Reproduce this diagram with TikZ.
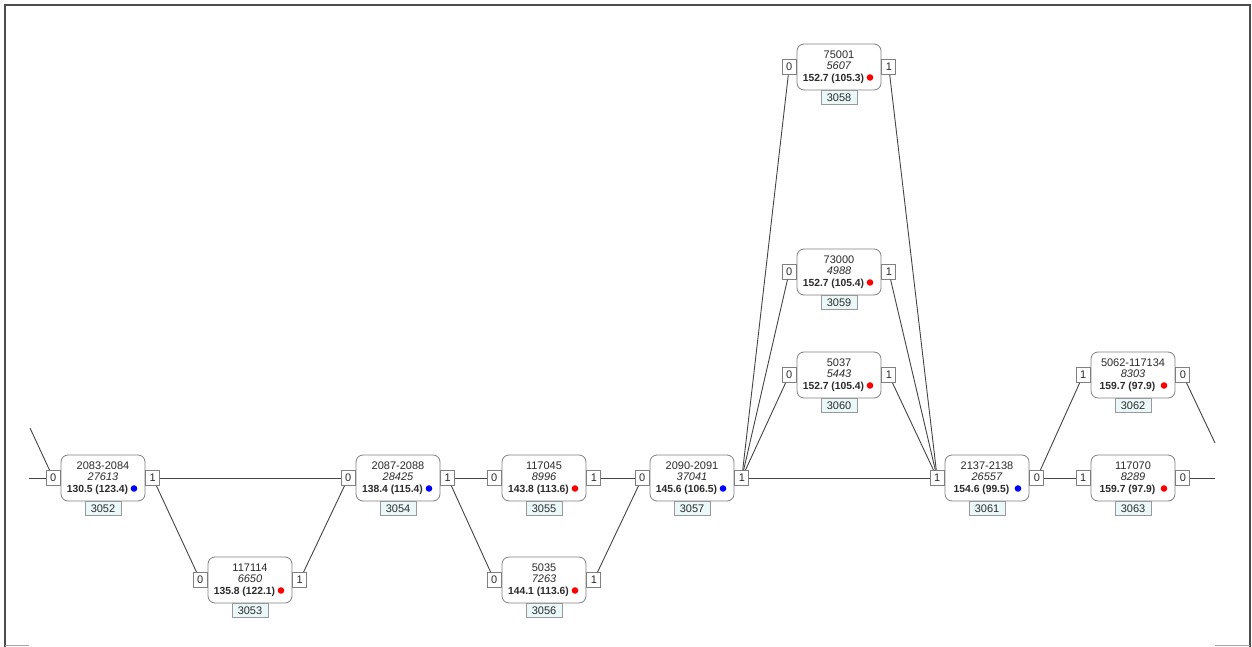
\documentclass[tikz,border=0pt]{standalone}
\usepackage{fontspec}
\setmainfont{Liberation Sans}
\usetikzlibrary{positioning}
\definecolor{txtgray}{HTML}{2B2B2B}
\definecolor{linegray}{HTML}{444444}
\definecolor{idfill}{HTML}{EAF8F9}

\begin{document}
\begin{tikzpicture}[x=1pt, y=-1pt,
  every node/.style={font=\fontsize{11}{11.5}\selectfont, text=txtgray},
  block/.style={draw=gray, line width=0.8pt, rounded corners=7pt, fill=white, minimum width=84pt,
    minimum height=46pt, inner sep=1pt, align=center},
  port/.style={draw=gray, line width=0.8pt, fill=white, minimum width=14pt, minimum height=15pt, inner sep=0pt},
  idbox/.style={draw=gray!80, line width=0.8pt, fill=idfill, minimum width=36pt, minimum height=14pt, inner sep=0pt},
  link/.style={linegray, line width=0.9pt}]
  \useasboundingbox (0,0) rectangle (1252,647);

  %% Frame
  \draw[gray!60!black, line width=1.2pt] (5,647) -- (5,5) -- (1250,5) -- (1250,647);
  \draw[gray!70, line width=1pt] (5,645) -- (29,645);
  \draw[gray!70, line width=1pt] (1215,645) -- (1250,645);

  %% Blocks with ports and ids
  \foreach \id/\x/\y/\la/\lb/\lc/\col/\pl/\pr in {
      3052/103/478/2083-2084/27613/130.5 (123.4)/blue/0/1,
      3053/250/580/117114/6650/135.8 (122.1)/red/0/1,
      3054/398/478/2087-2088/28425/138.4 (115.4)/blue/0/1,
      3055/544/478/117045/8996/143.8 (113.6)/red/0/1,
      3056/544/580/5035/7263/144.1 (113.6)/red/0/1,
      3057/692/478/2090-2091/37041/145.6 (106.5)/blue/0/1,
      3058/839/67/75001/5607/152.7 (105.3)/red/0/1,
      3059/839/272/73000/4988/152.7 (105.4)/red/0/1,
      3060/839/375/5037/5443/152.7 (105.4)/red/0/1,
      3061/987/478/2137-2138/26557/154.6 (99.5)/blue/1/0,
      3062/1133/375/5062-117134/8303/159.7 (97.9)/red/1/0,
      3063/1133/478/117070/8289/159.7 (97.9)/red/1/0} {
    \node[block] (n\id) at (\x,\y)
      {\la\\\textit{\lb}\\{\fontsize{10.3}{11.5}\selectfont\textbf{\lc}}\hspace*{11pt}};
    \fill[\col] ([xshift=31pt, yshift=-10.5pt]n\id.center) circle (3.3pt);
    \node[port, left=0pt of n\id] (l\id) {\pl};
    \node[port, right=0pt of n\id] (r\id) {\pr};
    \node[idbox, below=0pt of n\id] (id\id) {\id};
  }

  %% Loose ends at the picture border
  \coordinate (inA) at (29,478);
  \coordinate (inB) at (30,428);
  \coordinate (outA) at (1215,478);
  \coordinate (outB) at (1215,443);

  %% Links
  \draw[link] (inA) -- (l3052);
  \draw[link] (inB) -- (l3052);
  \foreach \a/\b in {r3052/l3054, r3052/l3053, r3053/l3054, r3054/l3055, r3054/l3056,
      r3055/l3057, r3056/l3057, r3057/l3058, r3057/l3059, r3057/l3060, r3057/l3061,
      r3058/l3061, r3059/l3061, r3060/l3061, r3061/l3062, r3061/l3063}
    \draw[link] (\a) -- (\b);
  \draw[link] (r3062) -- (outB);
  \draw[link] (r3063) -- (outA);
\end{tikzpicture}
\end{document}
